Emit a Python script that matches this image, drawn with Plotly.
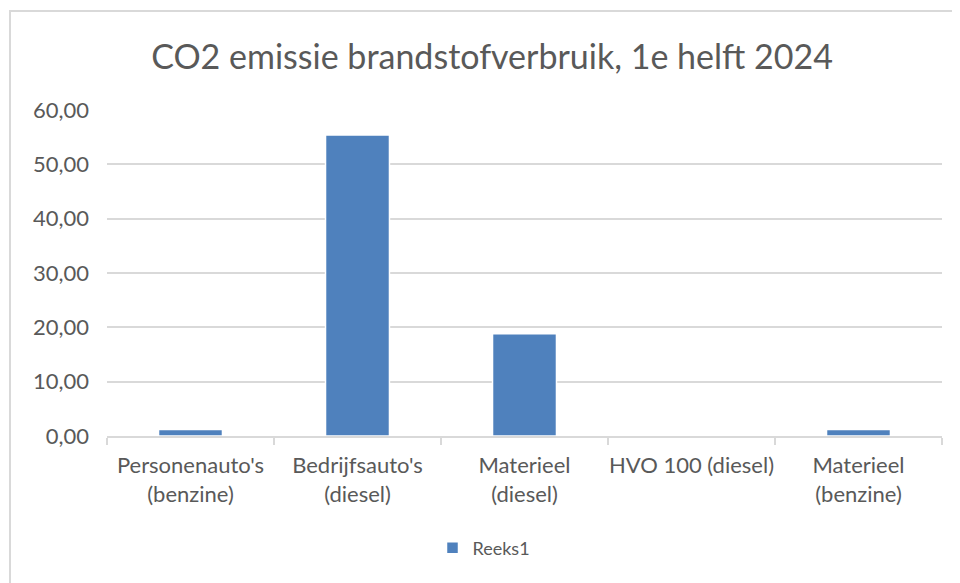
import plotly.graph_objects as go

categories = ["Personenauto's<br>(benzine)", "Bedrijfsauto's<br>(diesel)", "Materieel<br>(diesel)",
              "HVO 100 (diesel)", "Materieel<br>(benzine)"]
values = [1.2, 55.4, 18.8, 0.0, 1.2]
series_name = "Reeks1"
title_text = "CO2 emissie brandstofverbruik, 1e helft 2024"

OFF = 8  # page body margin
W, H = 960 - OFF, 583 - OFF
L, T = 107 - OFF, 110 - OFF
R = W - (942 - OFF)
B = H - (436 - OFF)
pw, ph = W - L - R, H - T - B

def px_x(x):
    return (x - OFF - L) / pw

def px_y(y):
    return (436 - y) / ph

FONT = "Lato, 'Open Sans', sans-serif"
GREY = "#595959"
GRID = "#d9d9d9"

fig = go.Figure(go.Bar(
    x=categories, y=values, name=series_name,
    marker=dict(color="#4f81bd", line=dict(color="white", width=1.5)),
    showlegend=True,
))

fig.update_layout(
    width=W, height=H,
    margin=dict(l=L, r=R, t=T, b=B),
    paper_bgcolor="white", plot_bgcolor="white",
    separators=",.",
    bargap=0.617,
    title=dict(text=title_text, xref="container", x=(492 - OFF) / W, xanchor="center",
               yref="container", y=1 - (57 - OFF) / H, yanchor="middle",
               font=dict(family=FONT, size=34, color=GREY)),
    font=dict(family=FONT, size=22, color=GREY),
    xaxis=dict(showline=True, linecolor=GRID, linewidth=2, ticks="outside", tickson="boundaries",
               ticklen=7, tickcolor=GRID, tickwidth=2, showgrid=False, ticklabelstandoff=9,
               tickangle=0, tickfont=dict(family=FONT, size=22, color=GREY)),
    yaxis=dict(range=[0, 60], dtick=10, tickformat=".2f", showgrid=True, gridcolor=GRID, gridwidth=2,
               zeroline=False, showline=False, ticks="", ticklabelstandoff=17,
               tickfont=dict(family=FONT, size=22, color=GREY)),
    legend=dict(orientation="h", x=px_x(484), xanchor="center", y=px_y(548), yanchor="middle",
                font=dict(family=FONT, size=18, color=GREY)),
    shapes=[dict(type="rect", xref="paper", yref="paper",
                 x0=px_x(10), x1=px_x(975), y0=px_y(600), y1=px_y(11),
                 line=dict(color=GRID, width=2), fillcolor="rgba(0,0,0,0)", layer="below")],
)

fig.write_html("out.html")
